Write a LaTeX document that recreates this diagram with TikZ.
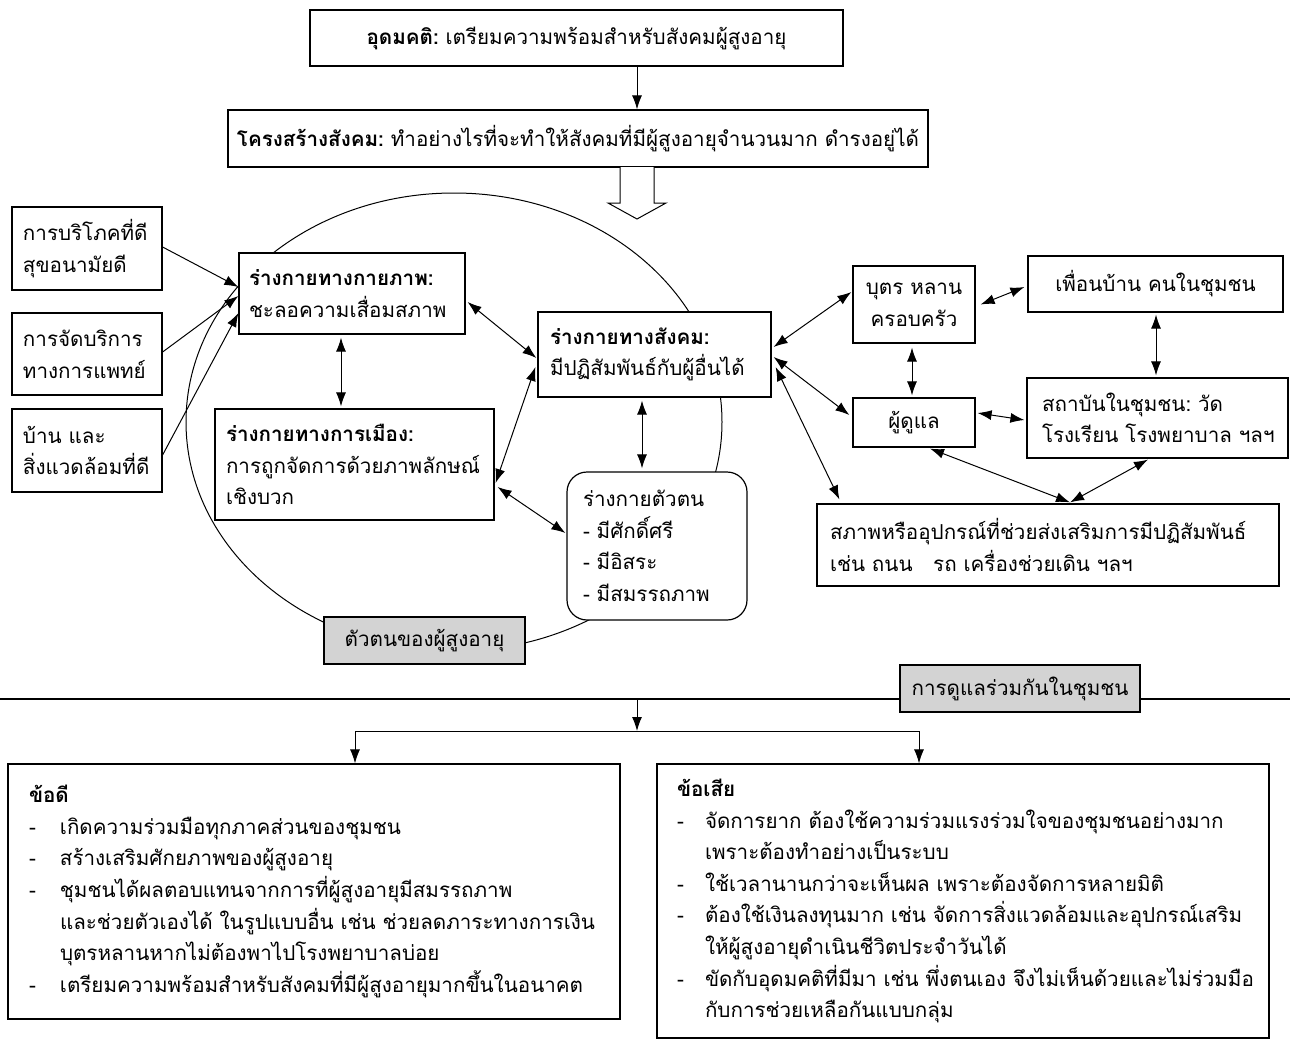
\documentclass[tikz,border=0pt]{standalone}
\usepackage{fontspec}
\setmainfont{Loma}[Script=Thai]
\usetikzlibrary{arrows.meta,calc}
\definecolor{lg}{RGB}{211,211,211}
\newcommand\myfs{\fontsize{20.6}{31.6}\selectfont}
\newcommand\pdash{\makebox[31pt][l]{-}}
\newcommand\pind{\hspace*{31pt}}
\newcommand\cdash{\makebox[28pt][l]{-}}
\newcommand\cind{\hspace*{28pt}}
\tikzset{
  box/.style={draw, fill=white, line width=1.2pt, inner ysep=0pt, font=\myfs},
  lbox/.style={box, align=left},
  cbox/.style={box, align=center},
  graybox/.style={box, fill=lg, align=center},
  arr/.style={-{Latex[length=14pt,width=10pt]}, line width=1pt},
  darr/.style={{Latex[length=14pt,width=10pt]}-{Latex[length=14pt,width=10pt]}, line width=1pt},
}
\begin{document}
\begin{tikzpicture}[x=1pt,y=-1pt]
\fill[white] (0,0) rectangle (1290,1044);
\useasboundingbox (0,0) rectangle (1290,1044);

% big ellipse
\draw[line width=1pt] (454,422) ellipse [x radius=268pt, y radius=229pt];

% main horizontal line
\coordinate (lineL) at (0,699);
\coordinate (lineR) at (1290,699);
\draw[line width=1.1pt] (lineL) -- (lineR);

% top boxes
\node[cbox, minimum width=533pt, minimum height=56pt] (ideal) at (576.5,38)
  {\textbf{อุดมคติ:}~เตรียมความพร้อมสำหรับสังคมผู้สูงอายุ};
\node[cbox, minimum width=700pt, minimum height=57pt] (struct) at (578,138.5)
  {\textbf{โครงสร้างสังคม:}~ทำอย่างไรที่จะทำให้สังคมที่มีผู้สูงอายุจำนวนมาก~ดำรงอยู่ได้};
\draw[arr] (ideal.south -| 637,0) -- (struct.north -| 637,0);

% block arrow
\draw[line width=1pt, fill=white] (620,167) -- (620,203) -- (608,203) -- (637,219)
  -- (666,203) -- (654,203) -- (654,167);

% left boxes
\node[lbox, minimum width=150pt, minimum height=83pt, text width=128pt, inner xsep=11pt] (b1) at (87,248.5)
  {การบริโภคที่ดี\\สุขอนามัยดี};
\node[lbox, minimum width=150pt, minimum height=82pt, text width=128pt, inner xsep=11pt] (b2) at (87,354)
  {การจัดบริการ\\ทางการแพทย์};
\node[lbox, minimum width=150pt, minimum height=83pt, text width=128pt, inner xsep=11pt] (b3) at (87,450.5)
  {บ้าน~และ\\สิ่งแวดล้อมที่ดี};

% inner boxes
\node[lbox, minimum width=226pt, minimum height=81pt, text width=206pt, inner xsep=10pt] (phys) at (352,293.5)
  {\textbf{ร่างกายทางกายภาพ:}\\ชะลอความเสื่อมสภาพ};
\node[lbox, minimum width=279pt, minimum height=111pt, text width=257pt, inner xsep=11pt] (pol) at (354.5,464.5)
  {\textbf{ร่างกายทางการเมือง:}\\การถูกจัดการด้วยภาพลักษณ์\\เชิงบวก};
\node[lbox, minimum width=233pt, minimum height=85pt, text width=209pt, inner xsep=12pt] (soc) at (654.5,354.5)
  {\textbf{ร่างกายทางสังคม:}\\มีปฏิสัมพันธ์กับผู้อื่นได้};
\node[lbox, rounded corners=20pt, minimum width=180pt, minimum height=148pt, text width=148pt, inner xsep=16pt] (self) at (657,546)
  {ร่างกายตัวตน\\-~มีศักดิ์ศรี\\-~มีอิสระ\\-~มีสมรรถภาพ};
\node[graybox, minimum width=201pt, minimum height=47pt] (selfLabel) at (424.5,640.5)
  {ตัวตนของผู้สูงอายุ};

% right boxes
\node[cbox, minimum width=122pt, minimum height=77pt] (kids) at (914,304.5)
  {บุตร~หลาน\\ครอบครัว};
\node[cbox, minimum width=255pt, minimum height=56pt] (neigh) at (1155.5,284)
  {เพื่อนบ้าน~คนในชุมชน};
\node[cbox, minimum width=122pt, minimum height=49pt] (care) at (914,422.5)
  {ผู้ดูแล};
\node[lbox, minimum width=261pt, minimum height=80pt, text width=231pt, inner xsep=15pt] (inst) at (1157.5,418)
  {สถาบันในชุมชน:~วัด\\โรงเรียน~โรงพยาบาล~ฯลฯ};
\node[lbox, minimum width=462pt, minimum height=82pt, text width=436pt, inner xsep=13pt] (env) at (1048,545)
  {สภาพหรืออุปกรณ์ที่ช่วยส่งเสริมการมีปฏิสัมพันธ์\\เช่น~ถนน~~~รถ~เครื่องช่วยเดิน~ฯลฯ};

% community label
\node[graybox, minimum width=240pt, minimum height=47pt] (comm) at (1020,688.5)
  {การดูแลร่วมกันในชุมชน};

% bottom boxes
\node[lbox, minimum width=612pt, minimum height=255pt, text width=570pt, inner xsep=21pt] (pros) at (314,891.5)
  {\textbf{ข้อดี}\\
   \pdash เกิดความร่วมมือทุกภาคส่วนของชุมชน\\
   \pdash สร้างเสริมศักยภาพของผู้สูงอายุ\\
   \pdash ชุมชนได้ผลตอบแทนจากการที่ผู้สูงอายุมีสมรรถภาพ\\
   \pind และช่วยตัวเองได้~ในรูปแบบอื่น~เช่น~ช่วยลดภาระทางการเงิน\\
   \pind บุตรหลานหากไม่ต้องพาไปโรงพยาบาลบ่อย\\
   \pdash เตรียมความพร้อมสำหรับสังคมที่มีผู้สูงอายุมากขึ้นในอนาคต};
\node[lbox, minimum width=612pt, minimum height=274pt, text width=572pt, inner xsep=20pt] (cons) at (963,901)
  {\textbf{ข้อเสีย}\\
   \cdash จัดการยาก~ต้องใช้ความร่วมแรงร่วมใจของชุมชนอย่างมาก\\
   \cind เพราะต้องทำอย่างเป็นระบบ\\
   \cdash ใช้เวลานานกว่าจะเห็นผล~เพราะต้องจัดการหลายมิติ\\
   \cdash ต้องใช้เงินลงทุนมาก~เช่น~จัดการสิ่งแวดล้อมและอุปกรณ์เสริม\\
   \cind ให้ผู้สูงอายุดำเนินชีวิตประจำวันได้\\
   \cdash ขัดกับอุดมคติที่มีมา~เช่น~พึ่งตนเอง~จึงไม่เห็นด้วยและไม่ร่วมมือ\\
   \cind กับการช่วยเหลือกันแบบกลุ่ม};

% left inputs
\draw[arr] ($(b1.east)+(0,-1.5)$) -- ($(phys.west)+(0,-6.5)$);
\draw[arr] ($(b2.east)+(0,-2)$) -- ($(phys.west)+(0,2.5)$);
\draw[arr] ($(b3.east)+(0,4.5)$) -- ($(phys.west)+(0,19.5)$);

% inner connectors
\draw[darr] ($(phys.east)+(2,8.5)$) -- ($(soc.west)+(-1,3.5)$);
\draw[darr] ($(phys.south)+(-11,3)$) -- ($(pol.north)+(-13.5,-2)$);
\draw[darr] ($(soc.west)+(-2,12.5)$) -- ($(pol.east)+(1,18.5)$);
\draw[darr] ($(soc.south)+(-12.5,3)$) -- ($(self.north)+(-15,-3)$);
\draw[darr] ($(pol.east)+(3,22.5)$) -- ($(self.west)+(-1,-13)$);

% right connectors
\draw[darr] ($(soc.east)+(2,-7.5)$) -- ($(kids.west)+(-1,-12.5)$);
\draw[darr] ($(soc.east)+(2,2.5)$) -- ($(care.west)+(-3,-7.5)$);
\draw[darr] ($(soc.east)+(4,12.5)$) -- ($(env.north west)+(23,-4)$);
\draw[darr] ($(kids.east)+(5,0)$) -- ($(neigh.west)+(-3,3)$);
\draw[darr] ($(kids.south)+(-2,4)$) -- ($(care.north)+(-2,-2)$);
\draw[darr] ($(neigh.south)+(0.5,2)$) -- ($(inst.north)+(-1.5,-2)$);
\draw[darr] ($(care.east)+(2,-9.5)$) -- ($(inst.west)+(-2,2)$);
\draw[darr] ($(care.south)+(16,1)$) -- ($(env.north)+(22,-1)$);
\draw[darr] ($(inst.south)+(-9.5,1)$) -- ($(env.north)+(22,-1)$);

% bottom split
\coordinate (drop) at (637,699);
\coordinate (junc) at (637,731);
\coordinate (pT) at ($(pros.north)+(41,0)$);
\coordinate (cT) at ($(cons.north)+(-44,0)$);
\draw[arr] (drop) -- (junc);
\draw[arr] (junc) -| (pT);
\draw[arr] (junc) -| (cT);
\end{tikzpicture}
\end{document}
